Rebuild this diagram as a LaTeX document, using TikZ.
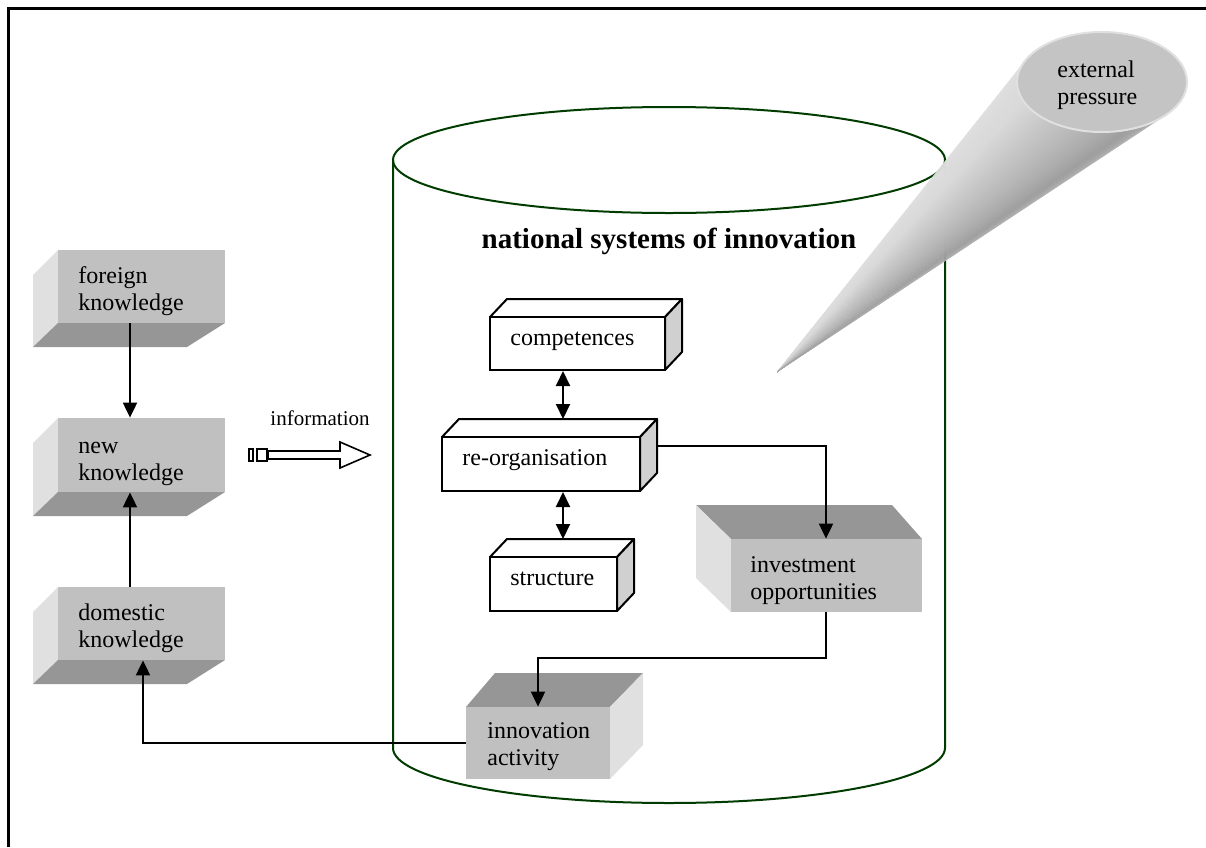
\documentclass[tikz,border=0pt]{standalone}
\usepackage{fontspec}
\setmainfont{Liberation Serif}
\usetikzlibrary{arrows.meta,fit}
\definecolor{cyl}{RGB}{0,60,0}
\definecolor{gfront}{RGB}{192,192,192}
\definecolor{glight}{RGB}{224,224,224}
\definecolor{gdark}{RGB}{150,150,150}
\definecolor{wside}{RGB}{208,208,208}
\tikzset{
 arr/.style={line width=1pt, -{Triangle[length=7.5pt,width=7pt]}},
 darr/.style={line width=1pt, {Triangle[length=7.5pt,width=7pt]}-{Triangle[length=7.5pt,width=7pt]}},
 gfrontbox/.style={inner sep=0pt, fill=gfront, draw=none},
 wfrontbox/.style={inner sep=0pt, fill=white, draw=black, line width=1pt},
 lbl/.style={inner sep=0pt, font=\fontsize{12}{13.5}\selectfont, align=left},
 face/.style={line width=1pt, draw=black, line join=round},
 infobox/.style={line width=0.8pt, draw=black, fill=white}
}
% left gray box: name, y1, y2 (front x 58..225, depth to lower-left)
\newcommand\leftgbox[3]{%
  \fill[glight] (58,#2) -- (33,#2+25) -- (33,#3+24) -- (58,#3) -- cycle;
  \fill[gdark] (58,#3) -- (225,#3) -- (187,#3+24) -- (33,#3+24) -- cycle;
  \node[gfrontbox, fit={(58,#2)(225,#3)}] (#1) {};}
% white box: name, x1, y1, x2, y2 (depth to upper-right)
\newcommand\whitebox[5]{%
  \filldraw[face, fill=white] (#2,#3) -- (#2+17,#3-18) -- (#4+17,#3-18) -- (#4,#3) -- cycle;
  \filldraw[face, fill=wside] (#4,#3) -- (#4+17,#3-18) -- (#4+17,#5-18) -- (#4,#5) -- cycle;
  \node[wfrontbox, fit={(#2,#3)(#4,#5)}] (#1) {};}
\begin{document}
\begin{tikzpicture}[x=0.5pt,y=-0.5pt]
\useasboundingbox (0,0) rectangle (1206,847);
\fill[white] (0,0) rectangle (1206,847);
% frame
\draw[line width=1.5pt] (8.5,847) -- (8.5,8.5) -- (1206,8.5);
% cylinder
\draw[cyl, line width=1pt] (669,160) ellipse [x radius=276, y radius=53];
\draw[cyl, line width=1pt] (393,160) -- (393,748) arc[start angle=180, end angle=0, x radius=276, y radius=55] -- (945,160);
% cone
\foreach \i in {0,...,71}{
  \pgfmathsetmacro\aa{205.1-\i*163.4/72}
  \pgfmathsetmacro\ab{max(41.7,205.1-(\i+1.4)*163.4/72)}
  \pgfmathsetmacro\s{(\i+0.5)/72}
  \pgfmathsetmacro\g{\s<0.3 ? 12+10*\s : (\s<0.82 ? 15+(\s-0.3)*44.2 : 38-(\s-0.82)*44.4)}
  \fill[black!\g] (777,372) -- ({1102+85*cos(\aa)},{82+50*sin(\aa)}) -- ({1102+85*cos(\ab)},{82+50*sin(\ab)}) -- cycle;
}
\filldraw[fill=black!23, draw=black!12, line width=1pt] (1102,82) ellipse [x radius=85, y radius=50];
\node[lbl, anchor=north west] (ext) at (1057,59) {\rule{0pt}{9pt}external\\pressure};
% title
\node[font=\fontsize{14.5}{17}\selectfont\bfseries, anchor=base, inner sep=0pt] (title) at (669,248) {national systems of innovation};
% left boxes
\leftgbox{foreign}{250}{323}
\leftgbox{new}{418}{492}
\leftgbox{domestic}{587}{660}
\node[lbl, anchor=north west] (tforeign) at (78,265) {\rule{0pt}{9pt}foreign\\knowledge};
\node[lbl, anchor=north west] (tnew) at (78,435) {\rule{0pt}{9pt}new\\knowledge};
\node[lbl, anchor=north west] (tdomestic) at (78,602) {\rule{0pt}{9pt}domestic\\knowledge};
% investment box
\fill[gdark] (731,539) -- (922,539) -- (892,505) -- (696,505) -- cycle;
\fill[glight] (696,505) -- (731,539) -- (731,612) -- (696,578) -- cycle;
\node[gfrontbox, fit={(731,539)(922,612)}] (invest) {};
\node[lbl, anchor=north west] (tinvest) at (750,554) {\rule{0pt}{9pt}investment\\opportunities};
% innovation box
\fill[gdark] (466,707) -- (610,707) -- (643,673) -- (495,673) -- cycle;
\fill[glight] (610,707) -- (643,673) -- (643,745) -- (610,779) -- cycle;
\node[gfrontbox, fit={(466,707)(610,779)}] (innov) {};
\node[lbl, anchor=north west] (tinnov) at (487,720) {\rule{0pt}{9pt}innovation\\activity};
% white boxes
\whitebox{comp}{490}{317}{665}{370}
\whitebox{reorg}{442}{437}{640}{491}
\whitebox{struct}{490}{557}{617}{611}
\node[lbl, anchor=base west] (tcomp) at (510,345) {competences};
\node[lbl, anchor=base west] (treorg) at (462,465) {re-organisation};
\node[lbl, anchor=base west] (tstruct) at (510,585) {structure};
\coordinate (reorgtop) at (459,419);
\coordinate (structtop) at (507,539);
\coordinate (reorgR) at (657,446);
% information arrow
\node[font=\fontsize{10.5}{12}\selectfont, anchor=base, inner sep=0pt] (info) at (320,425) {information};
\draw[infobox] (249,449) rectangle (253,461);
\draw[infobox] (257,449) rectangle (267,461);
\draw[infobox] (268,451) -- (340,451) -- (340,442) -- (370,455) -- (340,468) -- (340,459) -- (268,459) -- cycle;
% connectors
\draw[arr] (130,0 |- foreign.south) -- (130,0 |- new.north);
\draw[arr] (130,0 |- domestic.north) -- (130,0 |- new.south);
\draw[darr] (563,0 |- comp.south) -- (563,0 |- reorgtop);
\draw[darr] (563,0 |- reorg.south) -- (563,0 |- structtop);
\draw[arr] (reorgR) -| (826,0 |- invest.north);
\draw[arr] (826,0 |- invest.south) -- (826,658) -| (538,0 |- innov.north);
\draw[arr] (innov.west) -| (143,0 |- domestic.south);
\end{tikzpicture}
\end{document}
